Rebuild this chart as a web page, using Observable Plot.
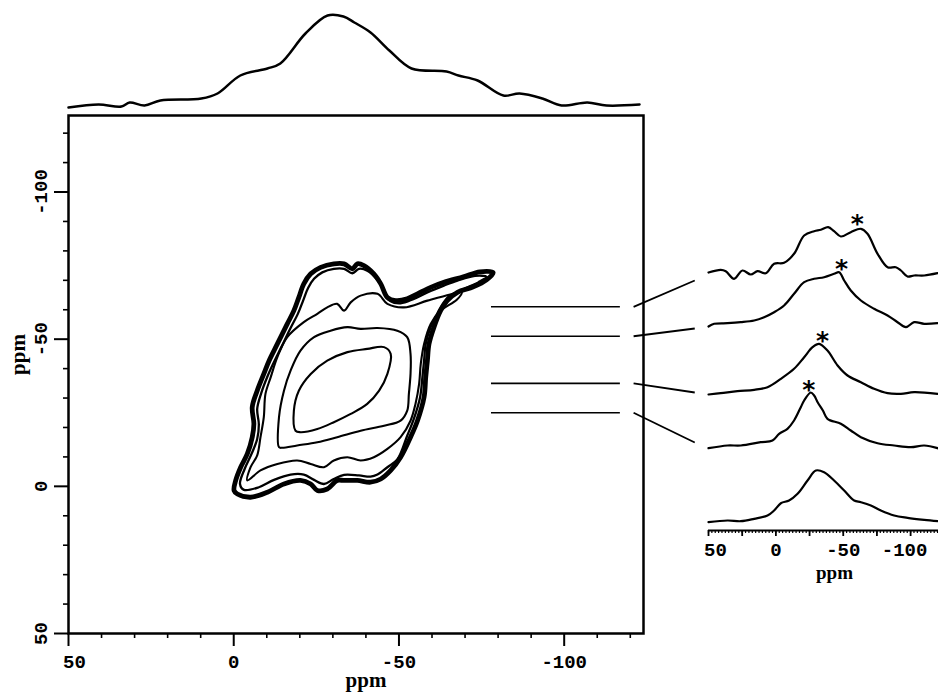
<!DOCTYPE html>
<html><head><meta charset="utf-8">
<script src="https://cdn.jsdelivr.net/npm/d3@7"></script>
<script src="https://cdn.jsdelivr.net/npm/@observablehq/plot@0.6"></script>
<style>
html,body{margin:0;padding:0;background:#fff;}
#chart{position:relative;width:938px;height:694px;overflow:hidden;background:#fff;}
#chart svg{position:absolute;left:0;top:0;}
</style></head><body><div id="chart"></div>
<script>
// ---------- tick values ----------
const xMajor = [50, 0, -50, -100];
const xMinor = [40, 30, 20, 10, -10, -20, -30, -40, -60, -70, -80, -90, -110, -120];
const yMajor = [50, 0, -50, -100];
const yMinor = [40, 30, 20, 10, -10, -20, -30, -40, -60, -70, -80, -90, -110, -120];
const rMajor = [50, 0, -50, -100];
const rMid = [25, -25, -75];

// ---------- 2D contour levels (x ppm, y ppm), outermost first ----------
const contour1 = [[-0.1,1.4],[-0.6,-2],[-2.1,-6.5],[-4.1,-11],[-5.6,-16.7],[-6.1,-21.2],[-5.6,-26.9],[-7.1,-32.5],[-9.1,-38.2],[-10.7,-42.7],[-13.2,-48.4],[-16.2,-55.2],[-18.2,-59.7],[-19.7,-64.2],[-21.2,-68.8],[-23.3,-72.2],[-26.3,-74.4],[-30.3,-75.6],[-33.4,-75.6],[-35.9,-73.9],[-37.4,-75.6],[-39.4,-75],[-42.4,-72.2],[-44.5,-68.8],[-46.5,-64.2],[-49,-63.1],[-52.5,-63.7],[-55.6,-65.4],[-59.6,-67.6],[-63.6,-69.3],[-69.5,-71.2],[-74.5,-72.9],[-78.5,-72.6],[-76.5,-70.2],[-72.5,-67.8],[-67.7,-65.9],[-64.6,-63.1],[-62.6,-59.7],[-60.6,-54.1],[-59.1,-48.4],[-58.6,-42.7],[-58.1,-37.1],[-57.6,-30.3],[-55.6,-22.3],[-53.5,-16.7],[-50.5,-9.9],[-47.5,-5.4],[-44.5,-2.5],[-41.4,-1.4],[-37.4,-2],[-33.4,-2],[-31.3,-2],[-28.3,0.9],[-25.3,1.4],[-23.3,-0.8],[-20.2,-2],[-15.2,-0.8],[-10.2,2],[-5.1,3.7],[-1.1,2.6]];
const contour2 = [[-1.9,-0.8],[-3.3,-5.9],[-5.3,-10.8],[-7.1,-16.1],[-7.6,-21],[-7.1,-26.3],[-8.3,-31.6],[-10.2,-37.3],[-12,-41.8],[-14.4,-47.3],[-17.2,-53.8],[-19.4,-58.6],[-21,-63.1],[-22.5,-67.4],[-24.3,-70.5],[-26.8,-72.7],[-30.3,-73.9],[-33.4,-73.9],[-35.9,-72.4],[-37.9,-73.9],[-40.4,-73.3],[-43.5,-70.1],[-45.5,-66.5],[-47.5,-62.9],[-50.5,-62.2],[-54.5,-63.7],[-58.6,-65.9],[-63.6,-68.2],[-67.7,-69.9],[-73,-71.5],[-76.5,-71.2],[-74,-69.3],[-70,-67.2],[-65.1,-64.5],[-62.6,-60.8],[-60.8,-56.9],[-59.6,-54.1],[-58.1,-48.4],[-57.6,-42.7],[-57.1,-37.1],[-56.4,-30.3],[-54.5,-22.9],[-52.5,-17.2],[-49.5,-9.1],[-46.5,-6.5],[-43.5,-4],[-41.4,-3.3],[-37.9,-3.7],[-33.4,-3.9],[-30.3,-2.5],[-27.3,-0.8],[-24.3,-2.2],[-21.2,-4],[-17.2,-4],[-12.2,-2.2],[-7.6,0.3],[-3.1,1.2]];
const contour3 = [[-4.1,-2],[-5.1,-6.5],[-7.1,-10.5],[-8.1,-16.7],[-9.1,-23.5],[-9.6,-31.4],[-11.2,-37.1],[-13.2,-43.9],[-16.2,-50.7],[-21.2,-55.8],[-25.3,-58.6],[-28.3,-60.8],[-31.3,-62],[-33.4,-59.7],[-35.4,-62.5],[-38.4,-64.8],[-43.5,-65.4],[-46.5,-62],[-51.5,-60.8],[-58.6,-63.1],[-65.5,-65.2],[-69,-66],[-67.5,-63.4],[-62.6,-59.7],[-59.6,-55.2],[-57.6,-48.4],[-56.6,-41.6],[-56.1,-34.8],[-55,-28],[-53.5,-22.3],[-50.5,-16.7],[-46.5,-12.7],[-42.4,-9.9],[-38.4,-8.8],[-34.4,-9.9],[-30.3,-8.8],[-27.3,-6.5],[-23.3,-7.6],[-19.2,-8.8],[-13.2,-7.6],[-8.1,-5.4]];
const contour4 = [[-13.7,-13.3],[-13.7,-23.5],[-15.2,-32.5],[-17.2,-39.3],[-20.2,-46.1],[-24.3,-50.7],[-29.3,-52.9],[-34.4,-54.1],[-38.4,-53.5],[-43.5,-53.8],[-49.5,-52.9],[-52.5,-50.7],[-53.5,-45],[-53.5,-38.2],[-53,-31.4],[-52.5,-25.7],[-50.5,-22.3],[-45.5,-20.6],[-38.4,-18.9],[-31.3,-16.7],[-25.3,-15],[-19.2,-13.9],[-14.7,-13.1]];
const contour5 = [[-18.7,-18.9],[-18.2,-25.7],[-19.7,-32.5],[-23.3,-38.2],[-28.3,-42.7],[-34.4,-45.6],[-40.4,-46.7],[-45.5,-47.3],[-47.5,-45],[-46.5,-38.2],[-44,-32.5],[-40.4,-28],[-35.4,-24.6],[-30.3,-21.8],[-25.3,-19.5],[-20.2,-18.4]];
const contourWidths = [4.8, 2.3, 2.1, 2.1, 2.1];

// ---------- slices (y ppm) and slice line extent (x ppm) ----------
const sliceY = [-61, -51, -35, -25];
const sliceX1 = -78, sliceX2 = -117;
const connectorStartX = -121;      // main-plot x ppm
const connectorEndX = 60.2;        // right-panel x ppm
const connectorEnd = [250, 202, 138, 88]; // right-panel vertical units

// ---------- top projection (ppm, intensity) ----------
const topProj = [[50,1],[40.9,4],[34,2],[31.5,6],[27,3],[22.2,8],[9.8,10],[4.9,15],[-2,33],[-10.2,40],[-14.1,45],[-21.7,75],[-28.4,93],[-33.2,92],[-36.5,86],[-41.4,76],[-47.1,58],[-53.8,40],[-64.4,37],[-68,33],[-73.8,28],[-81.6,13],[-86.5,15],[-93.4,10],[-99.2,3],[-107,6],[-112.8,3],[-122.8,4]];

// ---------- right panel slices (ppm, intensity), top to bottom ----------
const trace1 = [[50,0],[40.9,2.7],[37.2,1.3],[31,-6.3],[24.8,2],[18.6,-2],[13.6,1.3],[7.5,-0.7],[1.3,8.7],[-6.1,9.7],[-13.5,18.7],[-21,37],[-28.4,41.3],[-33.4,42.7],[-38.8,45.3],[-43.2,41.3],[-48.2,36],[-55.6,40.3],[-63.1,43.7],[-68,38.7],[-75.5,18.7],[-82.9,5.3],[-89,5.3],[-92.8,2],[-97.7,-4],[-102.6,-3],[-110.1,-3],[-120,-0.7]];
const trace2 = [[50,-1],[45.8,1.7],[35.9,2.3],[26,3.3],[16.1,5],[8.7,8.3],[1.3,13.3],[-6.1,20],[-13.5,31.7],[-21,43.3],[-28.4,46.7],[-35.8,48.3],[-43.2,51.7],[-47,53.3],[-50.7,45],[-55.6,35],[-63.1,25],[-72.9,16.7],[-82.9,10],[-90.3,3.3],[-96.5,-1.7],[-102.6,3.3],[-110.1,1.7],[-120,2.3]];
const trace3 = [[50,0],[40.9,1.3],[28.5,3.3],[16.1,4.7],[6.2,7.3],[-3.7,15.7],[-13.5,25.7],[-21,37.3],[-27.2,47.3],[-32.1,50.7],[-38.3,44],[-45.8,29],[-53.2,19],[-63.1,12.3],[-72.9,5.7],[-82.9,1.3],[-92.8,0.7],[-102.6,2.3],[-120,0.7]];
const trace4 = [[50,-0.7],[35.9,2],[26,2],[11.2,5.3],[2.5,7],[-2.4,13.7],[-8.6,18.7],[-13.5,27],[-18.5,40.3],[-21,47],[-25.9,55],[-28.4,52],[-31.1,45],[-34.9,37],[-38.3,28.7],[-48.2,23.7],[-55.6,17],[-63.1,10.3],[-75.5,4.3],[-87.8,2],[-100.2,0.3],[-110.1,2],[-121,-1]];
const trace5 = [[50,-0.7],[35.9,1],[26,0.3],[16.1,2.7],[6.2,6],[1.3,11],[-3.7,18.3],[-9.8,21],[-16.1,27.7],[-23.5,41],[-29.7,51],[-35.8,49.3],[-43.2,41],[-50.7,31],[-58.1,21],[-63.1,19.3],[-70.5,16],[-77.9,11],[-87.8,6],[-97.7,3.7],[-110.1,1.7],[-121,0.3]];
const traceOffsets = [258, 205, 136, 83, 9];
const asteriskPpm = [-60.4, -48.7, -34.6, -24.5];
const asteriskLevel = [313, 268, 196, 147];

// ---------- drawing ----------
const W = 938, H = 694;
const mono = "'Liberation Mono', 'DejaVu Sans Mono', monospace";
const serif = "'Liberation Serif', 'DejaVu Serif', serif";
const baseStyle = {background: "none", overflow: "visible", color: "black"};
const toPts = arr => arr.map(([x, y]) => ({x, y}));
const fmt = d => String(d);
const blank = () => "";
const labelFont = {fontFamily: mono, fontSize: 19, fontWeight: "bold", lineAnchor: "middle"};
const ppmFont = {fontFamily: serif, fontSize: 21, fontWeight: "bold", lineAnchor: "middle"};
const ppmFontSmall = {fontFamily: serif, fontSize: 19, fontWeight: "bold", lineAnchor: "middle"};

const contours = [contour1, contour2, contour3, contour4, contour5];

const mainPlot = Plot.plot({
  width: W, height: H,
  marginLeft: 68, marginRight: 295, marginTop: 115, marginBottom: 61,
  style: baseStyle,
  x: {domain: [50, -124]},
  y: {domain: [50, -126]},
  marks: [
    Plot.frame({strokeWidth: 2.5}),
    Plot.axisX({ticks: xMajor, tickSize: 13, strokeWidth: 2, tickFormat: blank, label: null}),
    Plot.axisX({ticks: xMinor, tickSize: 5, strokeWidth: 1.6, tickFormat: blank, label: null}),
    Plot.axisY({ticks: yMajor, tickSize: 14, strokeWidth: 2, tickFormat: blank, label: null}),
    Plot.axisY({ticks: yMinor, tickSize: 5, strokeWidth: 1.6, tickFormat: blank, label: null}),
    ...contours.map((c, i) => Plot.line(toPts(c), {x: "x", y: "y", curve: "catmull-rom-closed", strokeWidth: contourWidths[i], strokeLinejoin: "round"})),
    Plot.ruleY(sliceY, {x1: sliceX1, x2: sliceX2, strokeWidth: 1.6}),
    Plot.text(xMajor.slice(0, 1), {x: d => d, text: fmt, frameAnchor: "bottom", dy: 28, dx: 6, ...labelFont}),
    Plot.text(xMajor.slice(1), {x: d => d, text: fmt, frameAnchor: "bottom", dy: 28, ...labelFont}),
    Plot.text(yMajor, {y: d => d, text: fmt, frameAnchor: "left", dx: -28, rotate: -90, textAnchor: "middle", ...labelFont}),
    Plot.text(["ppm"], {text: d => d, frameAnchor: "bottom", dx: 10, dy: 47, ...ppmFont}),
    Plot.text(["ppm"], {text: d => d, frameAnchor: "left", dx: -50, dy: -20, rotate: -90, textAnchor: "middle", ...ppmFont})
  ]
});

const topPlot = Plot.plot({
  width: W, height: H,
  marginLeft: 68, marginRight: 295, marginTop: 8, marginBottom: 586,
  style: baseStyle,
  x: {domain: [50, -124], axis: null},
  y: {domain: [0, 100], axis: null},
  marks: [
    Plot.line(toPts(topProj), {x: "x", y: "y", curve: "catmull-rom", strokeWidth: 2.5})
  ]
});

const traces = [trace1, trace2, trace3, trace4, trace5];
const traceData = traces.flatMap((t, i) => t.map(([p, v]) => ({x: p, y: v + traceOffsets[i], trace: i})));
const stars = asteriskPpm.map((p, i) => ({x: p, y: asteriskLevel[i]}));

const rightPlot = Plot.plot({
  width: W, height: H,
  marginLeft: 708, marginRight: 0, marginTop: 200, marginBottom: 164,
  style: baseStyle,
  x: {domain: [50, -120.7]},
  y: {domain: [0, 330], axis: null},
  marks: [
    Plot.ruleY([0], {strokeWidth: 2}),
    Plot.axisX({ticks: d3.range(50, -121, -2.5), tickSize: 3, strokeWidth: 1.2, tickFormat: blank, label: null}),
    Plot.axisX({ticks: rMajor.concat(rMid), tickSize: 6, strokeWidth: 1.8, tickFormat: blank, label: null}),
    Plot.line(traceData, {x: "x", y: "y", z: "trace", curve: "catmull-rom", strokeWidth: 2.2}),
    Plot.text(stars, {x: "x", y: "y", text: () => "*", fontFamily: "'DejaVu Sans', sans-serif", fontSize: 25, fontWeight: "bold", dy: 6}),
    Plot.text(rMajor.slice(0, 1), {x: d => d, text: fmt, frameAnchor: "bottom", dy: 19, dx: 7, ...labelFont}),
    Plot.text(rMajor.slice(1, 3), {x: d => d, text: fmt, frameAnchor: "bottom", dy: 19, ...labelFont}),
    Plot.text(rMajor.slice(3), {x: d => d, text: fmt, frameAnchor: "bottom", dy: 19, dx: -6, ...labelFont}),
    Plot.text(["ppm"], {text: d => d, frameAnchor: "bottom", dx: 11, dy: 42, ...ppmFontSmall})
  ]
});

const mx = mainPlot.scale("x"), my = mainPlot.scale("y"), rx = rightPlot.scale("x"), ry = rightPlot.scale("y");
const links = sliceY.map((s, i) => ({
  x1: mx.apply(connectorStartX), y1: my.apply(s),
  x2: rx.apply(connectorEndX), y2: ry.apply(connectorEnd[i])
}));
const overlayPlot = Plot.plot({
  width: W, height: H, margin: 0,
  style: baseStyle,
  x: {type: "identity", axis: null},
  y: {type: "identity", axis: null},
  marks: [Plot.link(links, {x1: "x1", y1: "y1", x2: "x2", y2: "y2", strokeWidth: 1.8})]
});

const chart = document.getElementById("chart");
[topPlot, mainPlot, rightPlot, overlayPlot].forEach(s => chart.appendChild(s));
</script></body></html>
